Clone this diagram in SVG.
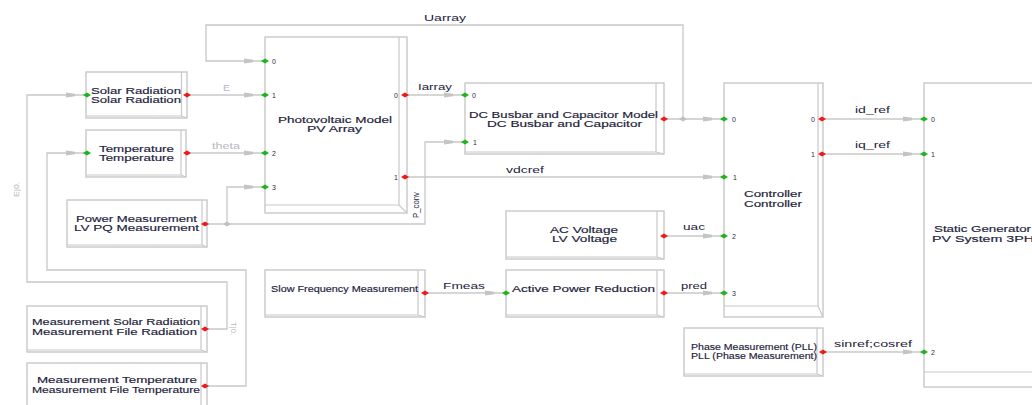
<svg xmlns="http://www.w3.org/2000/svg" xmlns:xlink="http://www.w3.org/1999/xlink" width="1032" height="405" viewBox="0 0 1032 405">
<style>
.box{fill:#fff;stroke:#c8c8c8;stroke-width:1.4}
.in{fill:none;stroke:#c8c8c8;stroke-width:1.2}
.wire{fill:none;stroke:#c8c8c8;stroke-width:1.3}
.t{font-family:"Liberation Sans",Arial,sans-serif;font-size:8.5px;fill:#1c1c3a;stroke:#1c1c3a;stroke-width:0.15}
.lb{font-family:"Liberation Sans",Arial,sans-serif;font-size:9.5px;fill:#1c1c3a}
.lg{font-family:"Liberation Sans",Arial,sans-serif;font-size:9.5px;fill:#b8b8c0}
.pn{font-family:"Liberation Sans",Arial,sans-serif;font-size:7px;fill:#2a2a40}
</style>
<defs>
<path id="pg" d="M-4,0 L0,-2.5 L4,0 L0,2.5Z" fill="#1eb41e"/>
<path id="pr" d="M-4,0 L0,-2.5 L4,0 L0,2.5Z" fill="#f01818"/>
<path id="pj" d="M-4,0 L0,-2.5 L4,0 L0,2.5Z" fill="#c0c0c0"/>
<path id="ar" d="M-21,-2.6 L-12,-1.3 L-12,1.3 L-21,2.6Z" fill="#c4c4c4"/>
</defs>

<g id="connectors">
<path class="wire" d="M664,119 H724 M683,119 V25 H206 V61 H265"/>
<path class="wire" d="M187,95 H265"/>
<path class="wire" d="M187,153 H265"/>
<path class="wire" d="M205,224 H425 V142 H465 M227,224 V187 H265"/>
<path class="wire" d="M405,95 H465"/>
<path class="wire" d="M405,177 H724"/>
<path class="wire" d="M664,236 H724"/>
<path class="wire" d="M664,293 H724"/>
<path class="wire" d="M425,293 H506"/>
<path class="wire" d="M823,119 H924"/>
<path class="wire" d="M823,154 H924"/>
<path class="wire" d="M823,352 H924"/>
<path class="wire" d="M205,329 H227 V282 H27 V95 H87"/>
<path class="wire" d="M205,386 H246 V270 H47 V153 H87"/>
<use xlink:href="#ar" x="265" y="61"/>
<use xlink:href="#ar" x="265" y="95"/>
<use xlink:href="#ar" x="265" y="153"/>
<use xlink:href="#ar" x="265" y="187"/>
<use xlink:href="#ar" x="465" y="95"/>
<use xlink:href="#ar" x="465" y="142"/>
<use xlink:href="#ar" x="724" y="119"/>
<use xlink:href="#ar" x="724" y="177"/>
<use xlink:href="#ar" x="724" y="236"/>
<use xlink:href="#ar" x="724" y="293"/>
<use xlink:href="#ar" x="924" y="119"/>
<use xlink:href="#ar" x="924" y="154"/>
<use xlink:href="#ar" x="924" y="352"/>
<use xlink:href="#ar" x="506" y="293"/>
<use xlink:href="#ar" x="87" y="95"/>
<use xlink:href="#ar" x="87" y="153"/>
<use xlink:href="#pj" x="683" y="119"/>
<use xlink:href="#pj" x="227" y="224"/>
<text class="lb" x="424" y="21" textLength="42" lengthAdjust="spacingAndGlyphs">Uarray</text>
<text class="lg" x="223" y="90.5" textLength="7" lengthAdjust="spacingAndGlyphs">E</text>
<text class="lg" x="212" y="149" textLength="28" lengthAdjust="spacingAndGlyphs">theta</text>
<text class="lb" transform="translate(419,218) rotate(-90)" textLength="26" lengthAdjust="spacingAndGlyphs">P_conv</text>
<text class="lb" x="418" y="90" textLength="34" lengthAdjust="spacingAndGlyphs">Iarray</text>
<text class="lb" x="506" y="173" textLength="38" lengthAdjust="spacingAndGlyphs">vdcref</text>
<text class="lb" x="683" y="230" textLength="22" lengthAdjust="spacingAndGlyphs">uac</text>
<text class="lb" x="681" y="289" textLength="26" lengthAdjust="spacingAndGlyphs">pred</text>
<text class="lb" x="443" y="289" textLength="42" lengthAdjust="spacingAndGlyphs">Fmeas</text>
<text class="lb" x="855" y="113" textLength="35" lengthAdjust="spacingAndGlyphs">id_ref</text>
<text class="lb" x="855" y="148" textLength="35" lengthAdjust="spacingAndGlyphs">iq_ref</text>
<text class="lb" x="834" y="347" textLength="78" lengthAdjust="spacingAndGlyphs">sinref;cosref</text>
<text class="lg" style="font-size:8px" transform="translate(19,197) rotate(-90)" textLength="15" lengthAdjust="spacingAndGlyphs">E|0.</text>
<text class="lg" style="font-size:8px" transform="translate(231,322) rotate(90)" textLength="13" lengthAdjust="spacingAndGlyphs">T|0.</text>
</g>

<g id="solar-radiation">
<rect class="box" x="86" y="72" width="101" height="46"/>
<path class="in" d="M181.5,72 V116 M86,116 H181.5 L187,118"/>
<text class="t" x="91" y="93.5" textLength="90" lengthAdjust="spacingAndGlyphs">Solar Radiation</text>
<text class="t" x="91" y="103" textLength="90" lengthAdjust="spacingAndGlyphs">Solar Radiation</text>
<use xlink:href="#pg" x="87" y="95"/>
<use xlink:href="#pr" x="187" y="95"/>
</g>

<g id="temperature">
<rect class="box" x="86" y="130" width="100" height="47"/>
<path class="in" d="M181,130 V175 M86,175 H181 L186,177"/>
<text class="t" x="99" y="151.5" textLength="75" lengthAdjust="spacingAndGlyphs">Temperature</text>
<text class="t" x="99" y="161" textLength="75" lengthAdjust="spacingAndGlyphs">Temperature</text>
<use xlink:href="#pg" x="87" y="153"/>
<use xlink:href="#pr" x="187" y="153"/>
</g>

<g id="power-measurement">
<rect class="box" x="67" y="200" width="140" height="47"/>
<path class="in" d="M202,200 V245 M67,245 H202 L207,247"/>
<text class="t" x="76" y="221.5" textLength="121" lengthAdjust="spacingAndGlyphs">Power Measurement</text>
<text class="t" x="74" y="231" textLength="125" lengthAdjust="spacingAndGlyphs">LV PQ Measurement</text>
<use xlink:href="#pr" x="205" y="224"/>
</g>

<g id="measurement-solar-radiation">
<rect class="box" x="27" y="306" width="180" height="46"/>
<path class="in" d="M201,306 V350 M27,350 H201 L207,352"/>
<text class="t" x="32" y="325" textLength="168" lengthAdjust="spacingAndGlyphs">Measurement Solar Radiation</text>
<text class="t" x="32" y="334.6" textLength="165" lengthAdjust="spacingAndGlyphs">Measurement File Radiation</text>
<use xlink:href="#pr" x="205" y="329"/>
</g>

<g id="measurement-temperature">
<rect class="box" x="27" y="363" width="180" height="50"/>
<path class="in" d="M201,363 V412"/>
<text class="t" x="37" y="383" textLength="160" lengthAdjust="spacingAndGlyphs">Measurement Temperature</text>
<text class="t" x="32" y="392.6" textLength="168" lengthAdjust="spacingAndGlyphs">Measurement File Temperature</text>
<use xlink:href="#pr" x="205" y="386"/>
</g>

<g id="pv-array">
<rect class="box" x="265" y="37" width="142" height="176"/>
<path class="in" d="M399,37 V205 M265,205 H399 L407,213"/>
<text class="t" x="278" y="122.5" textLength="114" lengthAdjust="spacingAndGlyphs">Photovoltaic Model</text>
<text class="t" x="307" y="132.1" textLength="55" lengthAdjust="spacingAndGlyphs">PV Array</text>
<use xlink:href="#pg" x="265" y="61"/>
<use xlink:href="#pg" x="265" y="95"/>
<use xlink:href="#pg" x="265" y="153"/>
<use xlink:href="#pg" x="265" y="187"/>
<use xlink:href="#pr" x="405" y="95"/>
<use xlink:href="#pr" x="405" y="177"/>
<text class="pn" x="272" y="63.5">0</text>
<text class="pn" x="272" y="97.5">1</text>
<text class="pn" x="272" y="155.5">2</text>
<text class="pn" x="272" y="189.5">3</text>
<text class="pn" x="394" y="97.5">0</text>
<text class="pn" x="394" y="179.5">1</text>
</g>

<g id="dc-busbar">
<rect class="box" x="465" y="83" width="199" height="71"/>
<path class="in" d="M656,83 V152 M465,152 H656 L664,154"/>
<text class="t" x="469" y="117.5" textLength="189" lengthAdjust="spacingAndGlyphs">DC Busbar and Capacitor Model</text>
<text class="t" x="487" y="127.1" textLength="155" lengthAdjust="spacingAndGlyphs">DC Busbar and Capacitor</text>
<use xlink:href="#pg" x="465" y="95"/>
<use xlink:href="#pg" x="465" y="142"/>
<use xlink:href="#pr" x="664" y="119"/>
<text class="pn" x="472" y="97.5">0</text>
<text class="pn" x="473" y="144.5">1</text>
</g>

<g id="controller">
<rect class="box" x="724" y="83" width="99" height="234"/>
<path class="in" d="M818,83 V306 M724,306 H818 L823,317"/>
<text class="t" x="744" y="197" textLength="58" lengthAdjust="spacingAndGlyphs">Controller</text>
<text class="t" x="744" y="206.6" textLength="58" lengthAdjust="spacingAndGlyphs">Controller</text>
<use xlink:href="#pg" x="724" y="119"/>
<use xlink:href="#pg" x="724" y="177"/>
<use xlink:href="#pg" x="724" y="236"/>
<use xlink:href="#pg" x="724" y="293"/>
<use xlink:href="#pr" x="822" y="119"/>
<use xlink:href="#pr" x="822" y="154"/>
<text class="pn" x="732" y="121.5">0</text>
<text class="pn" x="733" y="179.5">1</text>
<text class="pn" x="732" y="238.5">2</text>
<text class="pn" x="732" y="295.5">3</text>
<text class="pn" x="811" y="121.5">0</text>
<text class="pn" x="811" y="156.5">1</text>
</g>

<g id="static-generator">
<rect class="box" x="924" y="83" width="120" height="304"/>
<path class="in" d="M924,372 H1040"/>
<text class="t" x="934" y="232" textLength="97" lengthAdjust="spacingAndGlyphs">Static Generator</text>
<text class="t" x="932" y="241.6" textLength="102" lengthAdjust="spacingAndGlyphs">PV System 3PH</text>
<use xlink:href="#pg" x="924" y="119"/>
<use xlink:href="#pg" x="924" y="154"/>
<use xlink:href="#pg" x="924" y="352"/>
<text class="pn" x="931" y="121.5">0</text>
<text class="pn" x="931" y="156.5">1</text>
<text class="pn" x="931" y="354.5">2</text>
</g>

<g id="ac-voltage">
<rect class="box" x="506" y="211" width="158" height="48"/>
<path class="in" d="M657,211 V257 M506,257 H657 L664,259"/>
<text class="t" x="550" y="232.5" textLength="68" lengthAdjust="spacingAndGlyphs">AC Voltage</text>
<text class="t" x="552" y="242.1" textLength="65" lengthAdjust="spacingAndGlyphs">LV Voltage</text>
<use xlink:href="#pr" x="664" y="236"/>
</g>

<g id="slow-frequency">
<rect class="box" x="265" y="270" width="160" height="47"/>
<path class="in" d="M418,270 V315 M265,315 H418 L425,317"/>
<text class="t" x="271" y="292" textLength="147" lengthAdjust="spacingAndGlyphs">Slow Frequency Measurement</text>
<use xlink:href="#pr" x="425" y="293"/>
</g>

<g id="active-power-reduction">
<rect class="box" x="506" y="270" width="158" height="47"/>
<path class="in" d="M657,270 V315 M506,315 H657 L664,317"/>
<text class="t" x="512" y="292" textLength="143" lengthAdjust="spacingAndGlyphs">Active Power Reduction</text>
<use xlink:href="#pg" x="506" y="293"/>
<use xlink:href="#pr" x="664" y="293"/>
</g>

<g id="pll">
<rect class="box" x="684" y="328" width="139" height="48"/>
<path class="in" d="M817,328 V374 M684,374 H817 L823,376"/>
<text class="t" x="691" y="349.5" textLength="126" lengthAdjust="spacingAndGlyphs">Phase Measurement (PLL)</text>
<text class="t" x="691" y="359.1" textLength="126" lengthAdjust="spacingAndGlyphs">PLL (Phase Measurement)</text>
<use xlink:href="#pr" x="823" y="352"/>
</g>
</svg>
